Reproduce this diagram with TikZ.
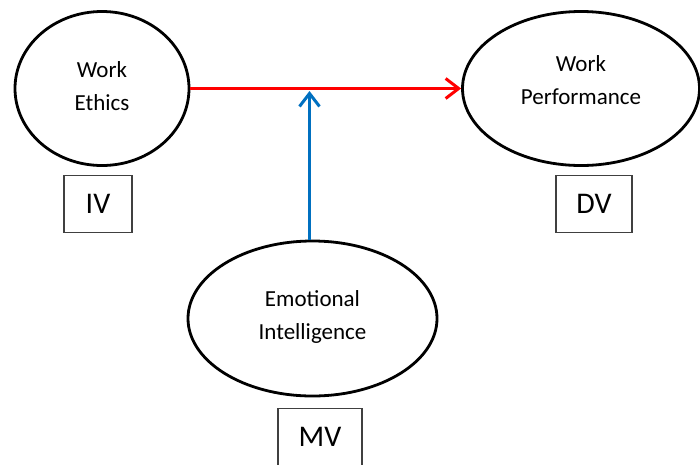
\documentclass[tikz,border=0pt]{standalone}
\usepackage{fontspec}
\setmainfont{Carlito}
\usepackage{tikz}
\usetikzlibrary{shapes.geometric,arrows.meta}
\definecolor{mvblue}{HTML}{0070C0}
\definecolor{ivred}{HTML}{FF0000}

\begin{document}
\begin{tikzpicture}[x=1pt,y=-1pt,
    var/.style={ellipse,draw,line width=2.8pt,align=center,text=black,font=\fontsize{23}{33}\selectfont},
    vtag/.style={draw=black!75,line width=1.3pt,minimum width=#1,minimum height=57pt,text=black,font=\fontsize{30}{36}\selectfont},
    link/.style={-{Straight Barb[length=13pt,width=20pt]},line width=3pt}]
              \useasboundingbox (0,0) rectangle (700,464);
              \node[var,minimum width=174pt,minimum height=154pt,text depth=4pt] (ethics) at (102,88.5) {Work\\Ethics};
              \node[var,minimum width=237pt,minimum height=154pt,text depth=16pt] (perf) at (581,88.5) {Work\\Performance};
              \node[var,minimum width=249pt,minimum height=155pt,text depth=6pt] (emot) at (312.5,318.5) {Emotional\\Intelligence};
              \node[vtag=68pt] (iv) at (98,204) {IV};
              \node[vtag=76pt] (dv) at (594,204) {DV};
              \node[vtag=84pt] (mv) at (320,437) {MV};
              \coordinate (meet) at (309.5,91);
              \draw[link,ivred](ethics.east)--(perf.west);
              \draw[link,mvblue](emot.north -| meet)--(meet);
            \end{tikzpicture}
\end{document}
